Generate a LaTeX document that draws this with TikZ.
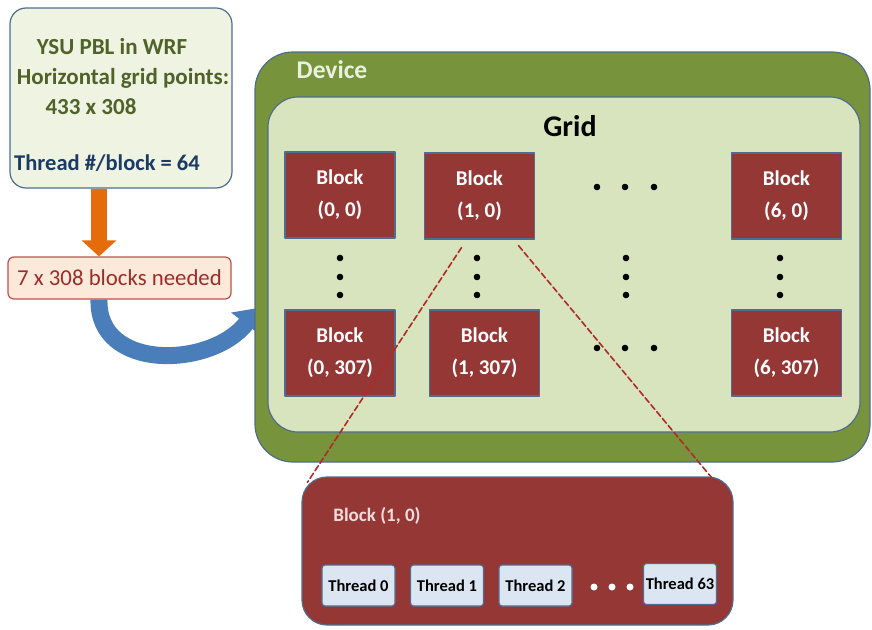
\documentclass[tikz,border=0pt]{standalone}
\usepackage{fontspec}
\setmainfont{Carlito}
\usetikzlibrary{arrows.meta}
\definecolor{edgegray}{HTML}{4F6D8F}
\definecolor{cfgfill}{HTML}{EEF3E2}
\definecolor{olivetext}{HTML}{4F6228}
\definecolor{navytext}{HTML}{1B3A64}
\definecolor{arroworange}{HTML}{E46C0A}
\definecolor{needfill}{HTML}{FDE9D9}
\definecolor{neededge}{HTML}{C0504D}
\definecolor{needtext}{HTML}{9B2D2A}
\definecolor{arrowblue}{HTML}{4A7EBB}
\definecolor{devicegreen}{HTML}{77933C}
\definecolor{devicetext}{HTML}{EBF1DE}
\definecolor{gridgreen}{HTML}{D7E4BD}
\definecolor{blockred}{HTML}{953735}
\definecolor{blocktext}{HTML}{F2DCDB}
\definecolor{threadblue}{HTML}{DCE6F2}
\definecolor{zoomred}{HTML}{B02A26}
\begin{document}
\begin{tikzpicture}[x=1pt,y=-1pt,line join=round,line cap=round,
    box/.style={draw=edgegray,line width=1.2pt,inner sep=0pt},
    blk/.style={box,fill=blockred,text=white,minimum width=110pt,minimum height=86pt,
      align=center,font=\fontsize{21}{32}\selectfont\bfseries},
    thr/.style={box,fill=threadblue,rounded corners=3pt,minimum width=73pt,minimum height=41pt,
      font=\fontsize{16.5}{18}\selectfont\bfseries},
    cfgtext/.style={text=olivetext,font=\fontsize{23}{26}\selectfont\bfseries},
    zoomline/.style={zoomred,line width=1.6pt,dash pattern=on 6pt off 3pt}]
  \useasboundingbox (0,0) rectangle (872,629);
  % input box and block count
  \node[box,fill=cfgfill,rounded corners=16pt,minimum width=222pt,minimum height=180pt] (cfg) at (121,98) {};
  \node[cfgtext] (ysu) at (112,47) {YSU PBL in WRF};
  \node[cfgtext] (hor) at (123,78) {Horizontal grid points:};
  \node[cfgtext] (pts) at (91,107) {433 x 308};
  \node[text=navytext,font=\fontsize{22.5}{26}\selectfont\bfseries] (tpb) at (107,163) {Thread \#/block = 64};
  \node[draw=neededge,line width=1.2pt,fill=needfill,rounded corners=6pt,minimum width=223pt,minimum height=42pt,
    inner sep=0pt,text=needtext,font=\fontsize{22.8}{26}\selectfont] (need) at (119.5,278) {7 x 308 blocks needed};
  \coordinate (ostart) at ([xshift=-22pt]cfg.south);
  \draw[arroworange,line width=16pt,line cap=butt,-{Triangle[width=34pt,length=16pt]}]
    (ostart) -- (ostart |- need.north);
  % device and grid
  \coordinate (hit) at (258,308);
  \draw[arrowblue,line width=17pt,line cap=butt,-{Triangle[width=36pt,length=20pt]}]
    (ostart |- need.south) .. controls (97,372) and (212,368) .. (hit);
  \node[box,fill=devicegreen,rounded corners=38pt,minimum width=615pt,minimum height=410pt] (device) at (562.5,257) {};
  \node[text=devicetext,font=\fontsize{25.5}{28}\selectfont\bfseries] (devlbl) at (332,70) {Device};
  \node[box,fill=gridgreen,rounded corners=30pt,minimum width=592pt,minimum height=335pt] (grid) at (564,264.5) {};
  \node[font=\fontsize{30}{32}\selectfont\bfseries] (gridlbl) at (570,126) {Grid};
  \node[blk] (b00) at (340,195) {Block\\(0, 0)};
  \node[blk] (b10) at (479.5,196) {Block\\(1, 0)};
  \node[blk] (b60) at (786.5,196) {Block\\(6, 0)};
  \node[blk] (b0n) at (340,353) {Block\\(0, 307)};
  \node[blk] (b1n) at (484.5,353) {Block\\(1, 307)};
  \node[blk] (b6n) at (786.5,353) {Block\\(6, 307)};
  \foreach \x in {597,625,654} {
    \fill (\x,187) circle (3.3pt);
    \fill (\x,348) circle (3.3pt);
  }
  \foreach \x in {340,477,626,780}
    \foreach \y in {258,277,295}
      \fill (\x,\y) circle (3.3pt);
  % zoomed block with threads
  \node[box,fill=blockred,rounded corners=25pt,minimum width=431pt,minimum height=148pt] (zoom) at (517.5,551) {};
  \node[text=blocktext,font=\fontsize{19}{20}\selectfont\bfseries] (zoomlbl) at (377,516) {Block (1, 0)};
  \node[thr] (t0) at (358.5,585.5) {Thread 0};
  \node[thr] (t1) at (447,585.5) {Thread 1};
  \node[thr] (t2) at (535.5,585.5) {Thread 2};
  \node[thr] (t63) at (680,584) {Thread 63};
  \foreach \x in {594,612,630}
    \fill[white] (\x,587) circle (3.5pt);
  \draw[zoomline] ([xshift=-18pt,yshift=-8pt]b10.south) -- ([xshift=6pt,yshift=-6pt]zoom.north west);
  \draw[zoomline] ([xshift=39pt,yshift=-6pt]b10.south) -- ([xshift=-18pt,yshift=-6pt]zoom.north east);
\end{tikzpicture}
\end{document}
